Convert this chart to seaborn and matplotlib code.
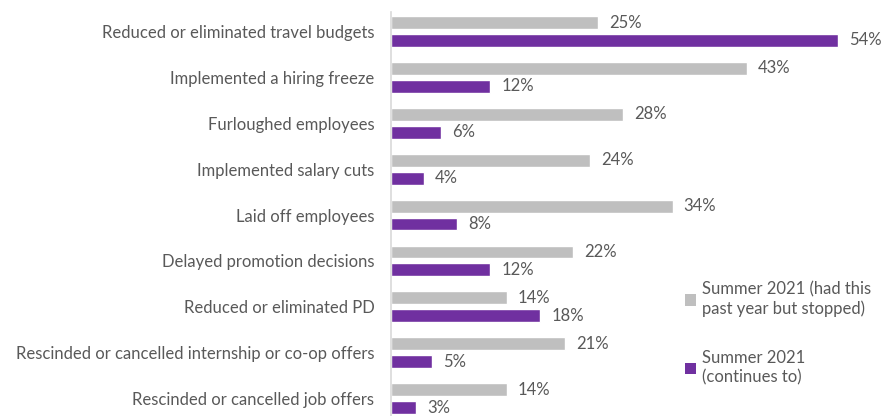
import matplotlib
matplotlib.use("Agg")
import matplotlib.pyplot as plt
import seaborn as sns
import pandas as pd
from matplotlib.patches import Patch

categories = [
    "Reduced or eliminated travel budgets",
    "Implemented a hiring freeze",
    "Furloughed employees",
    "Implemented salary cuts",
    "Laid off employees",
    "Delayed promotion decisions",
    "Reduced or eliminated PD",
    "Rescinded or cancelled internship or co-op offers",
    "Rescinded or cancelled job offers",
]
stopped = [25, 43, 28, 24, 34, 22, 14, 21, 14]
continues = [54, 12, 6, 4, 8, 12, 18, 5, 3]
series = ["Summer 2021 (had this\npast year but stopped)", "Summer 2021\n(continues to)"]
colors = ["#BFBFBF", "#7030A0"]
text_color = "#595959"

df = pd.DataFrame({
    "category": categories * 2,
    "value": stopped + continues,
    "series": [series[0]] * len(categories) + [series[1]] * len(categories),
})

sns.set_theme(style="white")
plt.rcParams["font.family"] = ["Lato", "DejaVu Sans"]

fig = plt.figure(figsize=(8.95, 4.16), dpi=100)
ax = fig.add_axes([391 / 895, 0, 1 - 391 / 895, 404 / 416])

sns.barplot(data=df, y="category", x="value", hue="series", orient="h",
            palette=colors, width=0.78, gap=0.28, legend=False, ax=ax,
            saturation=1)

for container in ax.containers:
    ax.bar_label(container, labels=[f"{v:.0f}%" for v in container.datavalues],
                 padding=8, fontsize=12, color=text_color)

ax.set_xlim(0, 504 / 8.28)
ax.set_ylim(8.38, -0.425)
ax.set_xlabel("")
ax.set_ylabel("")
ax.set_xticks([])
ax.tick_params(axis="y", length=0, pad=12, labelsize=12, labelcolor=text_color)
for side in ["top", "right", "bottom"]:
    ax.spines[side].set_visible(False)
ax.spines["left"].set_color("#D9D9D9")
ax.spines["left"].set_linewidth(1.2)

handles = [Patch(facecolor=c, edgecolor="none") for c in colors]
fig.legend(handles, series, loc="upper left", bbox_to_anchor=(678 / 895, 1 - 275 / 416),
           frameon=False, fontsize=12, labelcolor=text_color,
           handlelength=0.7, handleheight=0.7, handletextpad=0.35,
           labelspacing=2.0, borderaxespad=0)

fig.savefig("out.png", dpi=100)
